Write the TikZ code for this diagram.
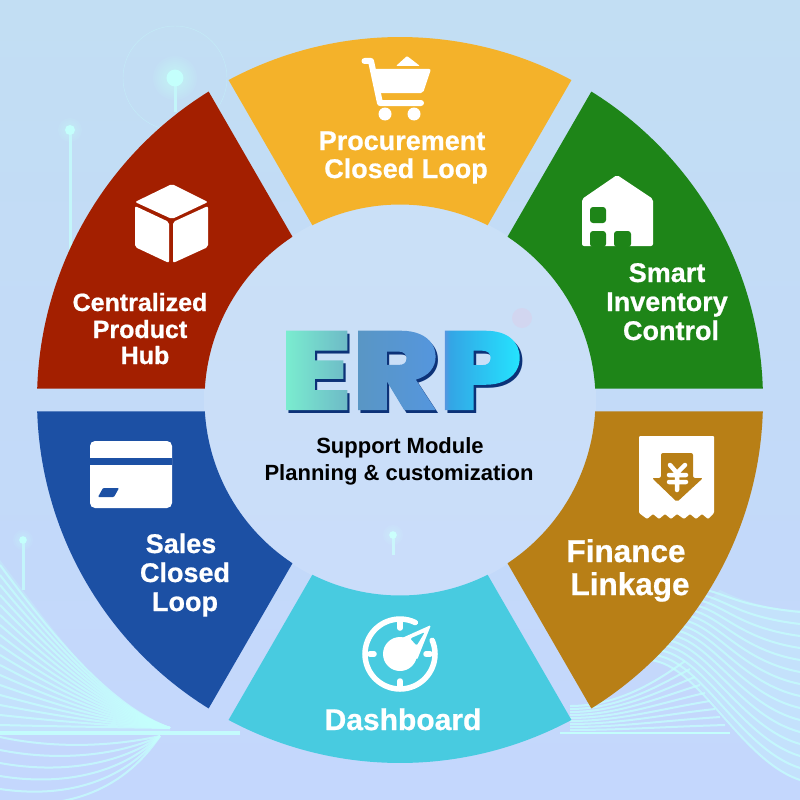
\documentclass[tikz,border=0pt]{standalone}
\usepackage{fontspec}
\setmainfont{Liberation Sans}
\newfontfamily\erpfont[FakeStretch=1.155]{Poppins Black}
\newfontfamily\segfont[FakeBold=0.7]{Liberation Sans Bold}
\usetikzlibrary{positioning}
\definecolor{procol}{RGB}{244,178,42}
\definecolor{invcol}{RGB}{30,133,24}
\definecolor{fincol}{RGB}{184,127,22}
\definecolor{dashcol}{RGB}{72,203,224}
\definecolor{salcol}{RGB}{28,80,164}
\definecolor{hubcol}{RGB}{163,31,0}
\definecolor{bgtop}{RGB}{194,222,243}
\definecolor{bgbot}{RGB}{196,215,253}
\definecolor{wavecol}{RGB}{196,255,252}
\definecolor{erpnavy}{RGB}{12,50,120}
\pgfdeclarehorizontalshading{erpgrad}{100bp}{
  rgb(0bp)=(0.49,0.97,0.82); rgb(25bp)=(0.49,0.97,0.82);
  rgb(40bp)=(0.43,0.73,0.78); rgb(42bp)=(0.35,0.59,0.77);
  rgb(59.6bp)=(0.33,0.59,0.88); rgb(60.6bp)=(0.20,0.65,0.90);
  rgb(75bp)=(0.14,0.90,1); rgb(100bp)=(0.14,0.90,1)}
% one ring segment: mid angle, colour
\newcommand{\erpseg}[2]{
  \fill[#2,shift={(400,400)}] (#1-28.185:363) arc[start angle=#1-28.185,end angle=#1+28.185,radius=363]
    -- (#1+26.63:195.5) arc[start angle=#1+26.63,end angle=#1-26.63,radius=195.5] -- cycle;
}
\newcommand{\erpglow}[4]{
  \draw[wavecol,line width=3pt,opacity=.75] (#1,#2) -- (#1,#4);
  \foreach \gr in {4,6,...,#3} \fill[wavecol,opacity=.09] (#1,#2) circle (\gr);
  \fill[wavecol] (#1,#2) circle ({#3/2.6});
}
\tikzset{
  seglabel/.style={white,font=\segfont\fontsize{#1}{#1}\selectfont,anchor=base,inner sep=0pt},
  midlabel/.style={black,font=\bfseries\fontsize{22}{22}\selectfont,anchor=base,inner sep=0pt},
  iconline/.style={white,line width=5.5pt,line cap=round,line join=round},
  waveline/.style={wavecol,opacity=.75,line width=2pt}
}
\begin{document}
\begin{tikzpicture}[x=1pt,y=-1pt]
\useasboundingbox (0,0) rectangle (800,800);
\shade[top color=bgtop,bottom color=bgbot] (0,0) rectangle (800,800);
% background glows and waves
\erpglow{175}{78}{22}{112}
\erpglow{70}{130}{13}{250}
\erpglow{23}{540}{10}{590}
\erpglow{393}{535}{10}{555}
\draw[wavecol,opacity=.45] (175,78) circle (52);
\fill[violet!25,opacity=.35] (522,318) circle (10);
\fill[white,opacity=.12] (400,400) circle (196);
\fill[wavecol,opacity=.25] (0,560) .. controls (60,640) and (115,715) .. (170,728) -- (170,733) -- (0,733) -- cycle;
\fill[wavecol,opacity=.25] (650,660) -- (720,590) .. controls (740,600) and (770,610) .. (800,610) -- (800,780) .. controls (740,760) and (710,670) .. cycle;
\foreach \k in {0,...,16}{
  \draw[waveline] (0,{565+\k*10}) .. controls (60,{646.5+\k*5}) and (115,{708+\k*1.2}) .. (170,728);
}
\foreach \k in {0,...,5}{
  \draw[waveline] (160,736) .. controls (120,{745+\k*10}) and (60,{750+\k*12}) .. (0,{737+\k*13});
}
\foreach \k in {0,...,9}{
  \draw[waveline] (570,{733-\k*3}) .. controls (620,{733-\k*3}) and (660,{733-\k*6}) .. ({730-\k*5},{733-\k*8});
}
\foreach \k in {0,...,14}{
  \draw[waveline] ({650+\k*4},{660-\k*5}) .. controls ({700+\k*2},{665-\k*5}) and (740,{760-\k*11}) .. (800,{780-\k*12});
}
\draw[wavecol,line width=4pt,opacity=.9] (0,733) -- (240,733);
\draw[wavecol,line width=2.5pt,opacity=.9] (560,733) -- (730,733);
% ring
\erpseg{270}{procol}
\erpseg{330}{invcol}
\erpseg{30}{fincol}
\erpseg{90}{dashcol}
\erpseg{150}{salcol}
\erpseg{210}{hubcol}
% cart
\draw[iconline,line width=6pt] (364.5,61) -- (371,61) -- (380,103) -- (421,103);
\fill[white,rounded corners=2pt] (373,69) -- (431,69) -- (423,93) -- (378,93) -- cycle;
\fill[white,rounded corners=1pt] (396,66) -- (407,56) -- (420,66) -- cycle;
\fill[white] (385,114) circle (6.5);
\fill[white] (414,114) circle (6.5);
% house
\fill[white,rounded corners=2pt] (617,175) -- (653,199) -- (653,246) -- (582,246) -- (582,199) -- cycle;
\fill[invcol,rounded corners=3pt] (590,207) rectangle (606,223);
\fill[invcol,rounded corners=3pt] (590,231) -- (590,247) -- (606,247) -- (606,231) -- cycle;
\fill[invcol,rounded corners=3pt] (614,231) -- (614,247) -- (631,247) -- (631,231) -- cycle;
% receipt
\fill[white,rounded corners=1pt] (639,436) -- (714,436) -- (714,513) -- (708,519) -- (702,514) -- (696,519) -- (690,514) -- (684,519) -- (677,514) -- (671,519) -- (665,514) -- (659,519) -- (653,514) -- (647,519) -- (639,513) -- cycle;
\fill[fincol,rounded corners=2pt] (661,453) -- (693,453) -- (693,478) -- (703,478) -- (677,502) -- (652,478) -- (661,478) -- cycle;
\draw[white,line width=4.5pt,line cap=round,line join=round] (670,465) -- (677,473) -- (685,465) (677,473) -- (677,490) (669,475) -- (686,475) (669,482) -- (686,482);
% gauge
\draw[iconline,shift={(400,654)}] (-23:35) arc[start angle=-23,end angle=296,radius=35];
\draw[iconline] (400,622) -- (400,628) (370,654) -- (374,654) (426,654) -- (430,654) (400,681) -- (400,686);
\fill[white] (400,654) circle (17);
\fill[white,even odd rule,rounded corners=1.5pt] (402,638) -- (431,625) -- (417,660) -- cycle (410,638.5) -- (425,632) -- (416.7,645.7) -- cycle;
% card
\fill[white,rounded corners=5pt] (90,441) rectangle (172,508);
\fill[salcol] (90,458) rectangle (172,465);
\fill[salcol,rounded corners=1pt] (103,488) -- (119,488) -- (114,497) -- (98,497) -- cycle;
% cube
\fill[white,rounded corners=2pt] (172,184) -- (208,202) -- (172,219) -- (135,202) -- cycle;
\fill[white,rounded corners=2pt] (135,206) -- (169,222) -- (169,263) -- (135,247) -- cycle;
\fill[white,rounded corners=2pt] (208,206) -- (173,222) -- (173,263) -- (208,247) -- cycle;
% labels
\node[seglabel=27] (pro1) at (402,150) {Procurement};
\node[seglabel=27] (pro2) at (406,178) {Closed Loop};
\node[seglabel=27] (inv1) at (667,282) {Smart};
\node[seglabel=27] (inv2) at (667,311) {Inventory};
\node[seglabel=27] (inv3) at (671,340) {Control};
\node[seglabel=31.5] (fin1) at (626,562) {Finance};
\node[seglabel=31.5] (fin2) at (630,595) {Linkage};
\node[seglabel=30] (dash) at (403,730) {Dashboard};
\node[seglabel=27] (sal1) at (181,553) {Sales};
\node[seglabel=27] (sal2) at (185,582) {Closed};
\node[seglabel=27] (sal3) at (185,611) {Loop};
\node[seglabel=25] (hub1) at (140,311) {Centralized};
\node[seglabel=25] (hub2) at (140,338) {Product};
\node[seglabel=25] (hub3) at (145,364) {Hub};
% centre
\node[erpnavy,font=\erpfont\fontsize{112}{112}\selectfont,anchor=base,inner sep=0pt] (erpshadow) at (404,413) {ERP};
\node[font=\erpfont\fontsize{112}{112}\selectfont,anchor=base,inner sep=0pt] (erp) at (401,410) {\special{pdf:code 7 Tr}ERP\special{pdf:code 0 Tr}\tikz[overlay,x=1pt,y=1pt,baseline=0pt]{\shade[shading=erpgrad] (-250,-5) rectangle (0,95);}};
\node[midlabel] (sup1) at (400,453) {Support Module};
\node[midlabel] (sup2) at (399,480) {Planning \& customization};
\end{tikzpicture}
\end{document}
